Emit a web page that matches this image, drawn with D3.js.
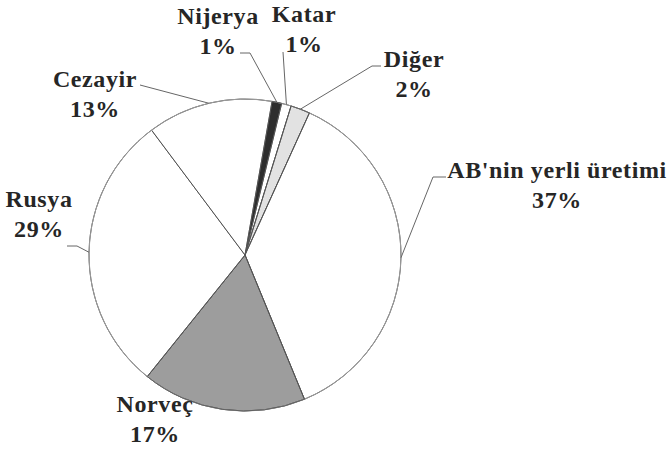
<!DOCTYPE html>
<html>
<head>
<meta charset="utf-8">
<script src="https://cdn.jsdelivr.net/npm/d3@7"></script>
<style>
  body { margin: 0; background: #fff; }
  svg { display: block; }
</style>
</head>
<body>
<svg id="chart"></svg>
<script>
// data
const categories = ["Nijerya", "Katar", "Diğer", "AB'nin yerli üretimi", "Norveç", "Rusya", "Cezayir"];
const shares = [1, 1, 2, 37, 17, 29, 13];
const fills = ["#2e2e2e", "#ffffff", "#e2e2e2", "#ffffff", "#9d9d9d", "#ffffff", "#ffffff"];

// label layout: text centre x, first baseline y, leader start points (null = no leader)
const labelLayout = {
    "Nijerya": { x: 218, y: 24, leader: [[240, 53], [250, 53]] },
    "Katar": { x: 304, y: 22, leader: [[283, 52]] },
    "Diğer": { x: 414, y: 67, leader: [[381, 66], [372, 66]] },
    "AB'nin yerli üretimi": { x: 557, y: 178, leader: [[446, 177], [433, 177]] },
    "Norveç": { x: 155, y: 412, leader: null },
    "Rusya": { x: 39, y: 207, leader: [[67, 246], [77, 246]] },
    "Cezayir": { x: 95, y: 87, leader: [[140, 85]] }
};

const width = 669, height = 449;
const cx = 245, cy = 255, radius = 156;

const svg = d3.select('#chart')
    .attr('width', width)
    .attr('height', height);

const chart = svg.append('g')
    .attr('transform', `translate(${cx}, ${cy})`);

const pie = d3.pie()
    .sort(null)
    .value(d => d.value)
    .startAngle(10 * Math.PI / 180)
    .endAngle(370 * Math.PI / 180);

const data = categories.map((c, i) => ({ name: c, value: shares[i], fill: fills[i] }));
const arcs = pie(data);

const arc = d3.arc().innerRadius(0).outerRadius(radius);
const edge = d3.arc().innerRadius(radius).outerRadius(radius);

chart.selectAll('path.slice')
    .data(arcs)
    .enter()
    .append('path')
    .attr('class', 'slice')
    .attr('d', arc)
    .attr('fill', d => d.data.fill)
    .attr('stroke', '#444')
    .attr('stroke-width', 0.9);

// lighter outer rim
chart.append('circle')
    .attr('r', radius)
    .attr('fill', 'none')
    .attr('stroke', '#9a9a9a')
    .attr('stroke-width', 1);

// re-stroke the grey slices so their rim stays dark
chart.selectAll('path.rim')
    .data(arcs.filter(d => d.data.fill !== '#ffffff'))
    .enter()
    .append('path')
    .attr('class', 'rim')
    .attr('d', arc)
    .attr('fill', 'none')
    .attr('stroke', '#555')
    .attr('stroke-width', 0.8);

// leader lines
const line = d3.line();
svg.selectAll('path.leader')
    .data(arcs.filter(d => labelLayout[d.data.name].leader))
    .enter()
    .append('path')
    .attr('class', 'leader')
    .attr('d', d => {
        const p = edge.centroid(d);
        const pts = labelLayout[d.data.name].leader.concat([[p[0] + cx, p[1] + cy]]);
        return line(pts);
    })
    .attr('fill', 'none')
    .attr('stroke', '#666')
    .attr('stroke-width', 1);

// labels
const labels = svg.selectAll('text.lbl')
    .data(arcs)
    .enter()
    .append('text')
    .attr('class', 'lbl')
    .attr('font-family', "'Liberation Serif', Tinos, 'DejaVu Serif', serif")
    .attr('font-weight', 'bold')
    .attr('font-size', 24)
    .attr('letter-spacing', 0.6)
    .attr('fill', '#262626')
    .attr('text-anchor', 'middle')
    .attr('x', d => labelLayout[d.data.name].x)
    .attr('y', d => labelLayout[d.data.name].y);

labels.append('tspan')
    .attr('x', d => labelLayout[d.data.name].x)
    .text(d => d.data.name);

labels.append('tspan')
    .attr('x', d => labelLayout[d.data.name].x)
    .attr('dy', 30)
    .text(d => d.data.value + '%');
</script>
</body>
</html>
